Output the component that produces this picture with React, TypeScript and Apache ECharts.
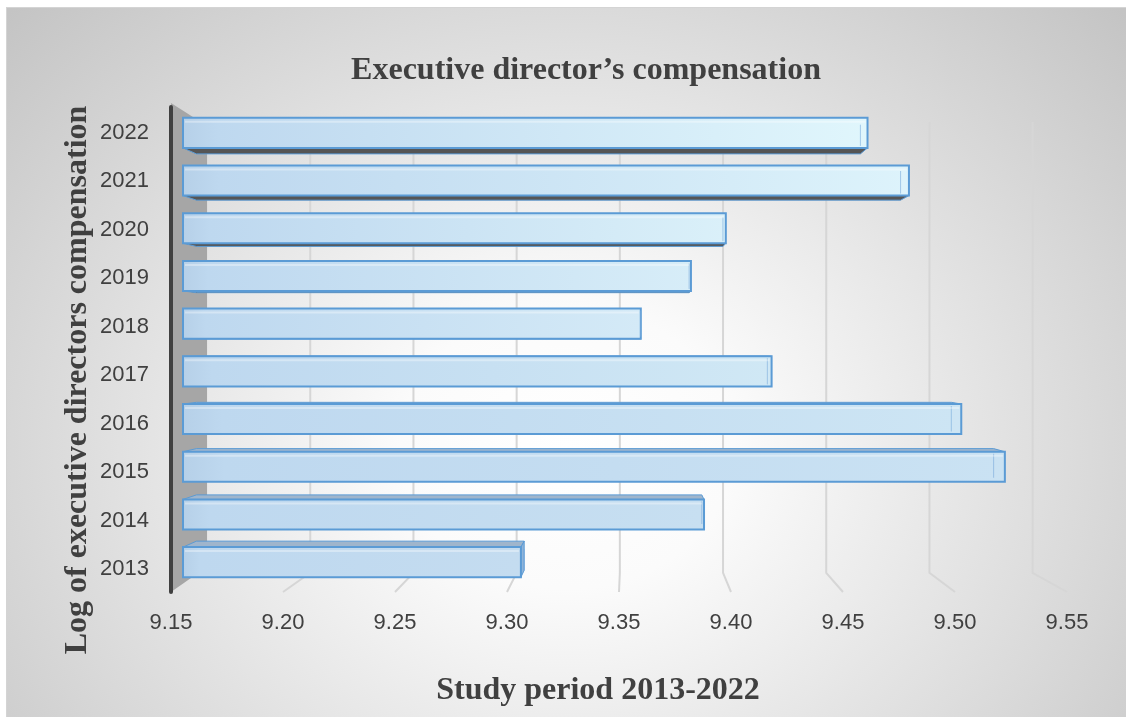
import React, { useEffect, useRef } from "react";
import * as echarts from "echarts";

const years = ["2013", "2014", "2015", "2016", "2017", "2018", "2019", "2020", "2021", "2022"];
const compensation = [9.305, 9.389, 9.527, 9.507, 9.42, 9.36, 9.383, 9.399, 9.483, 9.464];
const xTicks = [9.15, 9.2, 9.25, 9.3, 9.35, 9.4, 9.45, 9.5, 9.55];
const xMin = 9.15;
const xMax = 9.55;
const xStep = 0.05;

const chartTitle = "Executive director\u2019s compensation";
const xTitle = "Study period 2013-2022";
const yTitle = "Log of executive directors compensation";

const hex = (c: string) => [1, 3, 5].map((o) => parseInt(c.slice(o, o + 2), 16));
const mix = (a: string, b: string, t: number) => {
  const A = hex(a);
  const B = hex(b);
  return "rgb(" + A.map((v, j) => Math.round(v + (B[j] - v) * t)).join(",") + ")";
};

export default function App() {
  const ref = useRef<HTMLDivElement>(null);
  useEffect(() => {
    if (!ref.current) return;
    const chart = echarts.init(ref.current, undefined, { renderer: "svg" });
    const labelFont = { fontSize: 22, color: "#404040", fontFamily: "'Liberation Sans', Arial, sans-serif" };
    const titleFont = "bold 32px 'Liberation Serif', 'Times New Roman', serif";

    chart.setOption({
      animation: false,
      backgroundColor: "transparent",
      grid: [
        { left: 171, top: 107, width: 896, height: 485 },
        { left: 183, top: 109, width: 872, height: 477 },
      ],
      xAxis: [
        {
          type: "value",
          gridIndex: 0,
          min: xMin,
          max: xMax,
          interval: xStep,
          axisLine: { show: false },
          axisTick: { show: false },
          splitLine: { show: false },
          axisLabel: { ...labelFont, margin: 18, formatter: (v: number) => v.toFixed(2) },
        },
        { type: "value", gridIndex: 1, min: xMin, max: xMax, show: false },
      ],
      yAxis: [
        {
          type: "category",
          gridIndex: 0,
          data: years,
          z: 5,
          axisLine: { show: true, lineStyle: { color: "#404040", width: 4 } },
          axisTick: { show: false },
          axisLabel: { ...labelFont, margin: 22 },
        },
        { type: "category", gridIndex: 1, data: years, show: false },
      ],
      graphic: [
        {
          type: "text",
          x: 586,
          y: 68,
          style: { text: chartTitle, font: titleFont, fill: "#404040", align: "center", verticalAlign: "middle" },
        },
        {
          type: "text",
          x: 598,
          y: 688,
          style: { text: xTitle, font: titleFont, fill: "#404040", align: "center", verticalAlign: "middle" },
        },
        {
          type: "text",
          x: 75,
          y: 380,
          rotation: Math.PI / 2,
          style: { text: yTitle, font: titleFont, fill: "#404040", align: "center", verticalAlign: "middle" },
        },
      ],
      series: [
        {
          type: "custom",
          name: "walls",
          xAxisIndex: 0,
          yAxisIndex: 0,
          z: 1,
          silent: true,
          data: xTicks.map((v) => [v, 0]),
          encode: { x: 0, y: 1 },
          renderItem: (params: any, api: any) => {
            const v = api.value(0);
            const cs = params.coordSys;
            const vx = cs.x + cs.width * 0.512;
            const vy = cs.y + cs.height * 0.497;
            const t = 0.0786;
            const bk = (x: number, y: number) => [x + (vx - x) * t, y + (vy - y) * t];
            const xf = api.coord([v, 0])[0];
            const top = cs.y;
            const bot = cs.y + cs.height;
            const bt = bk(xf, top);
            const bb = bk(xf, bot);
            if (params.dataIndex === 0) {
              return {
                type: "polygon",
                shape: { points: [[xf, top - 4], bt, [bb[0], bb[1] - 6], [xf, bot]] },
                style: { fill: "#a6a6a6" },
              };
            }
            return {
              type: "polyline",
              shape: { points: [[bt[0], bt[1] - 4], bb, [xf, bot]] },
              style: { stroke: "#d6d6d6", lineWidth: 2, fill: "none" },
            };
          },
        },
        {
          type: "custom",
          name: "Log of executive directors compensation",
          xAxisIndex: 1,
          yAxisIndex: 1,
          z: 3,
          data: compensation.map((v, i) => [v, i]),
          encode: { x: 0, y: 1 },
          renderItem: (params: any, api: any) => {
            const v = api.value(0);
            const i = api.value(1);
            const cs = params.coordSys;
            const vx = cs.x + cs.width * 0.5126;
            const vy = cs.y + cs.height * 0.501;
            const k = 0.03;
            const bk = (x: number, y: number) => [x + (vx - x) * k, y + (vy - y) * k];
            const pEnd = api.coord([v, i]);
            const pStart = api.coord([xMin, i]);
            const h = api.size([0, 1])[1] * 0.63;
            const L = pStart[0];
            const R = pEnd[0];
            const T = pEnd[1] - h / 2;
            const B = pEnd[1] + h / 2;
            const children: any[] = [];
            const yc = pEnd[1];
            if (yc < vy) {
              children.push({
                type: "polygon",
                shape: { points: [[L, B], [R, B], bk(R, B), bk(L, B)] },
                style: { fill: "#555555", stroke: "#5b9bd5", lineWidth: 1 },
              });
            } else {
              children.push({
                type: "polygon",
                shape: { points: [[L, T], [R, T], bk(R, T), bk(L, T)] },
                style: { fill: "#9fb5cc", stroke: "#5b9bd5", lineWidth: 1 },
              });
            }
            if (R < vx) {
              children.push({
                type: "polygon",
                shape: { points: [[R, T], bk(R, T), bk(R, B), [R, B]] },
                style: { fill: "#8fb4d9", stroke: "#5b9bd5", lineWidth: 1 },
              });
            }
            const frac = i / (compensation.length - 1);
            children.push({
              type: "rect",
              shape: { x: L, y: T, width: R - L, height: B - T },
              style: {
                fill: new echarts.graphic.LinearGradient(0, 0, 1, 0, [
                  { offset: 0, color: "#b6d0e8" },
                  { offset: 0.05, color: "#bed8ef" },
                  { offset: 1, color: mix("#c4dcf0", "#e0f6fc", frac) },
                ]),
                stroke: "#5b9bd5",
                lineWidth: 2,
              },
            });
            const br = bk(R, T);
            const bb = bk(R, B);
            children.push({
              type: "line",
              shape: { x1: br[0], y1: Math.max(br[1], T + 2), x2: bb[0], y2: Math.min(bb[1], B - 2) },
              style: { stroke: "rgba(120,170,220,0.6)", lineWidth: 1 },
            });
            children.push({
              type: "line",
              shape: { x1: L + 2, y1: T + 4, x2: R - 2, y2: T + 4 },
              style: { stroke: "rgba(255,255,255,0.35)", lineWidth: 2 },
            });
            return { type: "group", children };
          },
        },
      ],
    });
    return () => chart.dispose();
  }, []);

  return (
    <div>
      <div
        style={{
          position: "fixed",
          left: 6,
          top: 7,
          width: 1140,
          height: 730,
          border: "1px solid #d4d4d4",
          background:
            "radial-gradient(ellipse 760px 640px at 560px 440px, #ffffff 0%, #fbfbfb 22%, #c4c4c4 100%)",
        }}
      />
      <div ref={ref} style={{ position: "fixed", left: 0, top: 0, width: 1126, height: 717 }} />
    </div>
  );
}
